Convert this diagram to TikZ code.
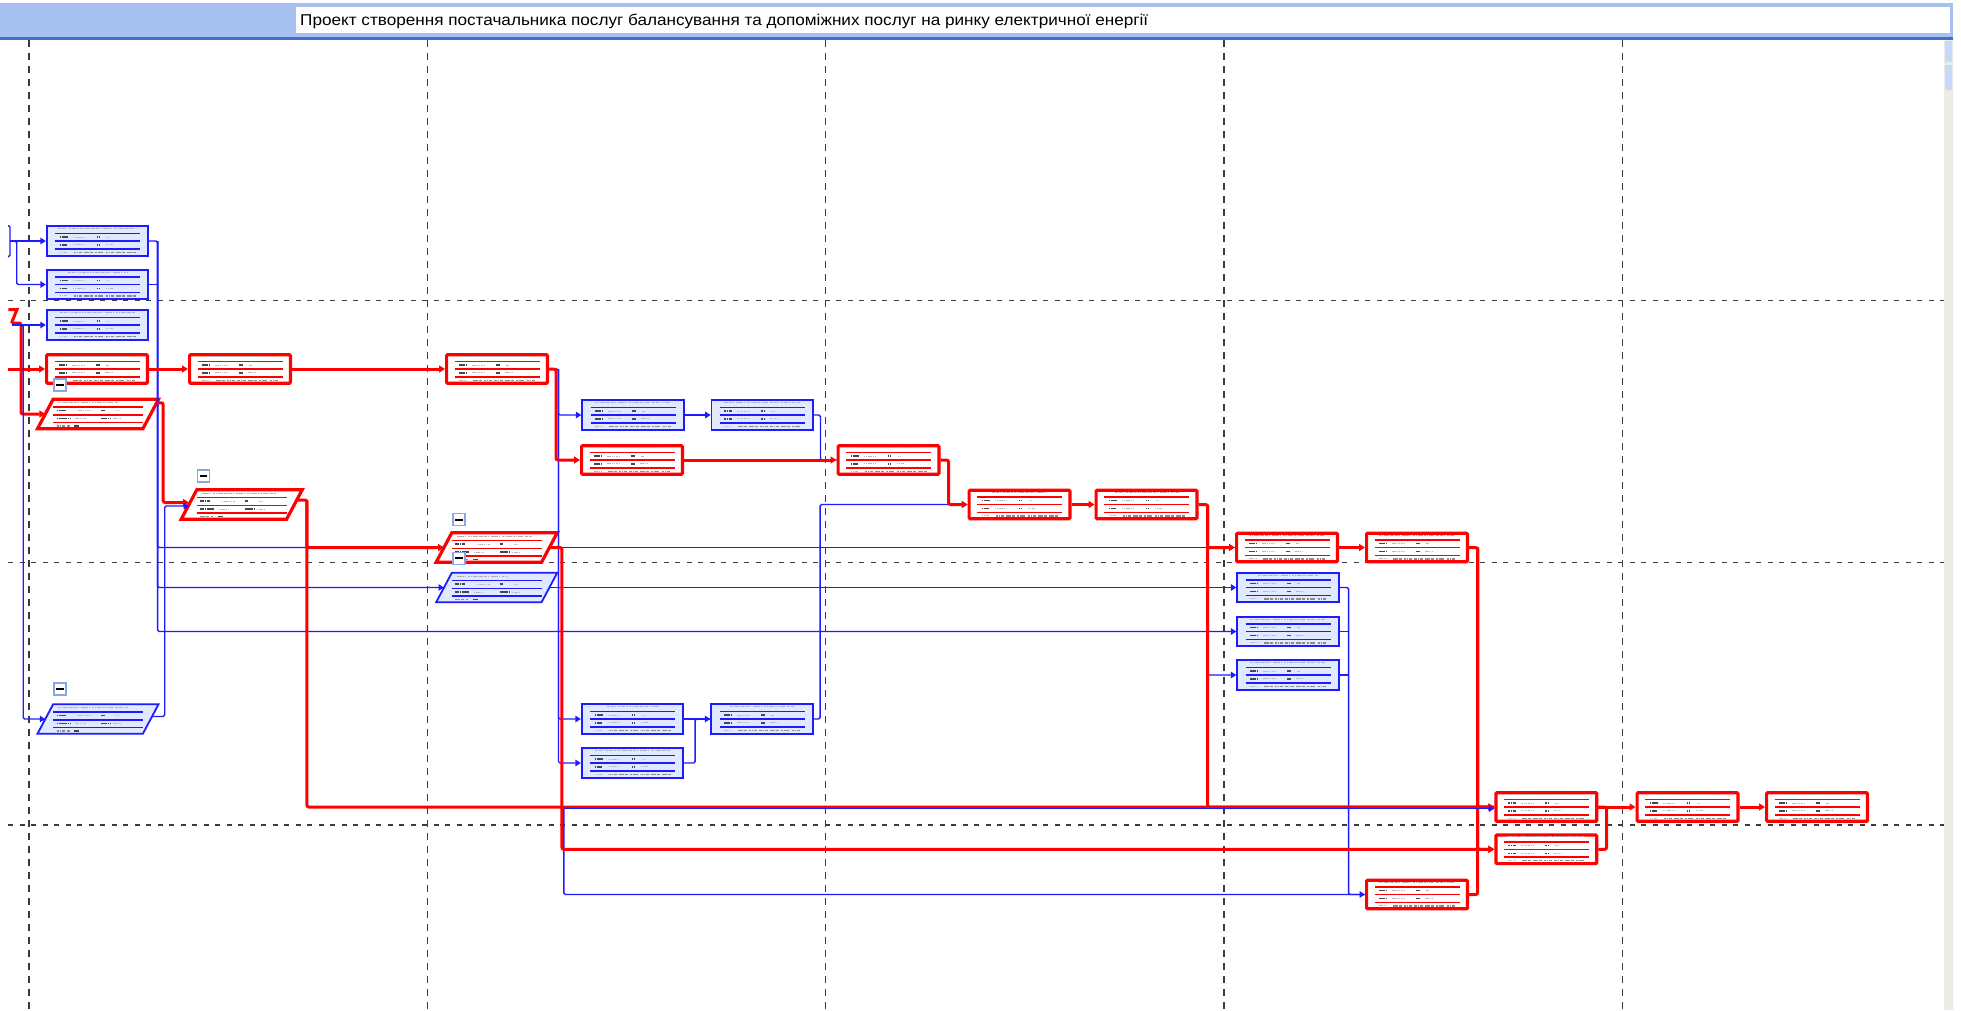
\documentclass[tikz,border=0pt]{standalone}
\usepackage{fontspec}
\usepackage{graphicx}
\setmainfont{Liberation Sans}
\usetikzlibrary{calc,arrows.meta}

\definecolor{critred}{RGB}{255,0,0}
\definecolor{normblue}{RGB}{28,28,255}
\definecolor{bluefill}{RGB}{224,233,255}
\definecolor{gridgray}{RGB}{60,60,60}
\definecolor{barblue}{RGB}{166,192,240}
\definecolor{bardark}{RGB}{70,110,200}
\definecolor{btnblue}{RGB}{140,166,228}
\definecolor{sbgray}{RGB}{236,236,230}
\definecolor{sbblue}{RGB}{200,216,248}

% tiny illegible field text inside the task boxes, drawn as marks
\newcommand\taskdetail[3]{%
  \begin{scope}[shift={(#1.center)}]
    \draw[titletext] (-#3,-12.4) -- (#3,-12.4);
    \draw[#2, line width=1.5pt] (-42.5,-7.5) -- (42.5,-7.5) (-42.5,0.2) -- (42.5,0.2) (-42.5,7.8) -- (42.5,7.8);
    \draw[darktext] (-38,-3.9) -- (-30,-3.9) (-1,-3.9) -- (2.5,-3.9);
    \draw[lighttext] (-25,-3.9) -- (-13,-3.9) (9,-3.9) -- (12,-3.9);
    \draw[darktext] (-38,3.9) -- (-31,3.9) (-1,3.9) -- (2.5,3.9);
    \draw[lighttext] (-25,3.9) -- (-13,3.9) (8,3.9) -- (15,3.9);
    \draw[lighttext] (-38,11.4) -- (-31,11.4);
    \draw[midtext] (-24,11.4) -- (39,11.4);
  \end{scope}}

\newcommand\paradetail[3]{%
  \begin{scope}[shift={(#1.center)}]
    \draw[titletext] (-40,-11.3) -- (#3,-11.3);
    \draw[#2, line width=1.5pt] (-45,-7.2) -- (45,-7.2) (-45,0.8) -- (45,0.8) (-45,8.4) -- (45,8.4);
    \draw[darktext] (-41.5,-3.4) -- (-32,-3.4) (3,-3.4) -- (6.5,-3.4);
    \draw[lighttext] (-20,-3.4) -- (-7,-3.4) (17.5,-3.4) -- (20,-3.4);
    \draw[darktext] (-41.5,4.6) -- (-28,4.6) (3,4.6) -- (12,4.6);
    \draw[lighttext] (-23,4.6) -- (-12,4.6) (15,4.6) -- (22,4.6);
    \draw[midtext] (-41.5,12) -- (-28,12);
    \draw[darktext] (-24,12) -- (-19,12);
  \end{scope}}

\newcommand\paratask[4]{%
  \node[paranode] (#1) at (#2,#3) {};
  \draw[#4] ($(#1.north west)+(7.8,0)$) -- ($(#1.north east)+(7.8,0)$)
    -- ($(#1.south east)+(-7.8,0)$) -- ($(#1.south west)+(-7.8,0)$) -- cycle;}

\begin{document}
\begin{tikzpicture}[x=1pt,y=-1pt,
  critbox/.style={rectangle, inner sep=0, minimum width=100.8pt, minimum height=28.6pt,
    draw=critred, line width=3.2pt, fill=white, rounded corners=1pt},
  normbox/.style={rectangle, inner sep=0, minimum width=101.5pt, minimum height=29.7pt,
    draw=normblue, line width=1.8pt, fill=bluefill},
  paranode/.style={rectangle, inner sep=0, minimum width=105pt, minimum height=29pt},
  critpara/.style={draw=critred, line width=3.2pt, fill=white},
  normpara/.style={draw=normblue, line width=1.8pt, fill=bluefill},
  critline/.style={draw=critred, line width=3pt, rounded corners=2pt},
  normline/.style={draw=normblue, line width=1.4pt, rounded corners=1.5pt},
  critarrow/.style={critline, -{Triangle[length=6pt,width=7pt]}},
  normarrow/.style={normline, -{Triangle[length=5.5pt,width=6.5pt]}},
  titletext/.style={gray!60, line width=1.1pt, dash pattern=on 2.2pt off 0.5pt on 1.2pt off 0.7pt on 3pt off 0.6pt on 1.5pt off 1.6pt},
  darktext/.style={black!72, line width=1.4pt, dash pattern=on 1.8pt off 0.4pt},
  lighttext/.style={gray!55, line width=1.1pt, dash pattern=on 1.5pt off 0.8pt},
  midtext/.style={black!45, line width=1.2pt, dash pattern=on 2.5pt off 0.6pt on 1.6pt off 0.8pt on 3pt off 2.2pt},
  gridv/.style={gridgray, line width=1.5pt, dash pattern=on 6.5pt off 6.5pt},
  gridh/.style={gridgray, line width=1.5pt, dash pattern=on 5pt off 6.5pt},
  btn/.style={rectangle, draw=btnblue, line width=1.2pt, fill=white, minimum size=12pt, inner sep=0}
]
\useasboundingbox (0,0) rectangle (1961,1010);
\fill[white] (0,0) rectangle (1961,1010);

% header with the project name
\fill[barblue] (0,3) rectangle (1953,39);
\fill[white] (296,7) rectangle (1950,32.5);
\fill[bardark] (0,36.5) rectangle (1953,39.5);
\node[anchor=base west, inner sep=0] (title) at (300,25)
  {\resizebox{848pt}{11.5pt}{\fontsize{14}{16}\selectfont Проект створення постачальника послуг балансування та допоміжних послуг на ринку електричної енергії}};

% scroll bar on the right
\fill[sbgray] (1944,39.5) rectangle (1953,1010);
\fill[sbblue] (1945,41) rectangle (1952,62);
\fill[sbblue] (1945,65) rectangle (1952,90);

% page grid
\foreach \gx in {29,427.7,825.5,1224,1622.7} \draw[gridv] (\gx,40) -- (\gx,1010);
\foreach \gy in {300.7,562.7,825} \draw[gridh] (8,\gy) -- (1944,\gy);

% task boxes
\node[normbox] (B1) at (97.5,241) {};
\node[normbox] (B2) at (97.5,284.5) {};
\node[normbox] (B3) at (97.5,325) {};
\node[critbox] (R1) at (97,369) {};
\node[critbox] (R2) at (240,369) {};
\node[critbox] (R3) at (497,369) {};
\node[normbox] (B4) at (633,415) {};
\node[critbox] (R4) at (632,460) {};
\node[normbox] (B5) at (762.3,415) {};
\node[normbox] (B6) at (632.5,719) {};
\node[normbox] (B7) at (632.5,763) {};
\node[normbox] (B8) at (762,719) {};
\node[critbox] (R5) at (888.5,460) {};
\node[critbox] (R6) at (1019.5,504.5) {};
\node[critbox] (R7) at (1146.5,504.5) {};
\node[critbox] (R8) at (1287,547.5) {};
\node[critbox] (R9) at (1417,547.5) {};
\node[normbox] (B9) at (1288,587.5) {};
\node[normbox] (B10) at (1288,631.5) {};
\node[normbox] (B11) at (1288,675) {};
\node[critbox] (R10) at (1417,894.5) {};
\node[critbox] (R11) at (1546.3,807) {};
\node[critbox] (R12) at (1546.3,849.3) {};
\node[critbox] (R13) at (1687.5,807) {};
\node[critbox] (R14) at (1817,807) {};

% summary tasks
\paratask{P1}{98}{414}{critpara}
\paratask{P2}{241.7}{504.5}{critpara}
\paratask{P3}{496.7}{547.5}{critpara}
\paratask{P4}{496.7}{587.5}{normpara}
\paratask{P5}{98}{719}{normpara}

% box contents
\taskdetail{B1}{normblue}{40}
\taskdetail{B2}{normblue}{30}
\taskdetail{B3}{normblue}{38}
\taskdetail{R1}{critred}{38}
\taskdetail{R2}{critred}{36}
\taskdetail{R3}{critred}{38}
\taskdetail{B4}{normblue}{38}
\taskdetail{R4}{critred}{25}
\taskdetail{B5}{normblue}{38}
\taskdetail{B6}{normblue}{26}
\taskdetail{B7}{normblue}{38}
\taskdetail{B8}{normblue}{32}
\taskdetail{R5}{critred}{30}
\taskdetail{R6}{critred}{28}
\taskdetail{R7}{critred}{32}
\taskdetail{R8}{critred}{38}
\taskdetail{R9}{critred}{38}
\taskdetail{B9}{normblue}{30}
\taskdetail{B10}{normblue}{38}
\taskdetail{B11}{normblue}{38}
\taskdetail{R10}{critred}{38}
\taskdetail{R11}{critred}{38}
\taskdetail{R12}{critred}{38}
\taskdetail{R13}{critred}{32}
\taskdetail{R14}{critred}{32}
\paradetail{P1}{critred}{20}
\paradetail{P2}{critred}{34}
\paradetail{P3}{critred}{36}
\paradetail{P4}{normblue}{10}
\paradetail{P5}{normblue}{30}

% free ends of links coming from outside the view
\coordinate (inR1) at (8,369);
\coordinate (inA) at (8,225.7);
\coordinate (inB) at (8,256.7);
\coordinate (inC) at (8.3,309.5);
\coordinate (inD) at (12,325);
\coordinate (bjoin) at (563.9,808.6);

% non-critical links
\draw[normarrow] (B1.east) -- ++(8.5,0) |- (B10.west);
\draw[normline] (B2.east) -- ++(8.5,0);
\draw[normline] ($(B1.east)+(8.5,0)$) |- (P3.west);
\draw[normarrow] ($(B1.east)+(8.5,0)$) |- (P4.west);
\draw[normarrow] (R3.east) -- ++(9.5,0) |- (B4.west);
\draw[normarrow] ($(R3.east)+(9.5,0)$) |- (B6.west);
\draw[normarrow] ($(R3.east)+(9.5,0)$) |- (B7.west);
\draw[normarrow] (B4.east) -- (B5.west);
\draw[normline] (B5.east) -- ++(6.5,0) |- (R5.west);
\draw[normarrow] (B6.east) -- (B8.west);
\draw[normline] (B7.east) -- ++(11,0) |- (B8.west);
\draw[normarrow] (B8.east) -- ++(6.5,0) |- (R6.west);
\draw[normline] (P3.east) -- (P3.east -| R8.west);
\draw[normarrow] (P4.east) -- (P4.east -| B9.west);
\draw[normarrow] ($(R7.east)+(9,0)$) |- (B11.west);
\draw[normarrow] (B9.east) -- ++(9,0) |- (R10.west);
\draw[normline] (B10.east) -- ++(9,0);
\draw[normline] (B11.east) -- ++(9,0);
\draw[normline] (bjoin) |- (R10.west);

% critical links
\draw[critarrow] (inR1) -- (R1.west);
\draw[critarrow] (R1.east) -- (R2.west);
\draw[critarrow] (R2.east) -- (R3.west);
\draw[critarrow] (R3.east) -- ++(7,0) |- (R4.west);
\draw[critarrow] (R4.east) -- (R5.west);
\draw[critarrow] (R5.east) -- ++(8,0) |- (R6.west);
\draw[critarrow] (R6.east) -- (R7.west);
\draw[critarrow] (R7.east) -- ++(9,0) |- (R8.west);
\draw[critline] ($(R7.east)+(9,0)$) |- (R11.west);
\draw[critarrow] (R8.east) -- (R9.west);
\draw[critline] (R9.east) -- ++(8.6,0) |- (R10.east);
\draw[critarrow] ($(R9.east)+(8.6,0)$) |- (R11.west);
\draw[critarrow] ($(R9.east)+(8.6,0)$) |- (R12.west);
\draw[critline] (R12.east) -- ++(8.3,0) |- (R11.east);
\draw[critarrow] (R11.east) -- (R13.west);
\draw[critarrow] (R13.east) -- (R14.west);
\draw[critline, rounded corners=0] (inC) -- (17,309.5) -- (11.5,323);
\draw[critarrow] (11.5,323) -- (21,323) |- (P1.west);
\draw[critarrow] ($(P1.north east)+(6.5,3.5)$) -- ++(6,0) |- ($(P2.west)+(0,-2)$);
\draw[critarrow] ($(P2.east)+(1.5,-4.5)$) -- ++(11,0) |- (P3.west);
\draw[critarrow] ($(P2.east)+(12.5,-4.5)$) |- (R11.west);
\draw[critarrow] (P3.east) -- ++(12.5,0) |- (R12.west);

% non-critical links drawn over the critical ones
\draw[normline] (inA) -- (10,225.7) -- (10,256.7) -- (inB);
\draw[normarrow] (10,241) -- (B1.west);
\draw[normarrow] (10,241) -- (16.7,241) |- (B2.west);
\draw[normarrow] (inD) -- (B3.west);
\draw[normarrow] (inD) -- (23.2,325) |- (P5.west);
\draw[normarrow] ($(P5.east)+(1,-2.5)$) -- ++(13,0) |- ($(P2.west)+(0,1.5)$);
\draw[normarrow] (bjoin) -- (bjoin -| R11.west);

% collapse buttons of the summary tasks
\foreach \bn/\bx/\by in {K1/60/385, K2/203.3/476, K3/459/519.7, K4/459/558.3, K5/60/689} {
  \node[btn] (\bn) at (\bx,\by) {};
  \draw[black, line width=1.7pt] ($(\bn.center)+(-3.6,0)$) -- ($(\bn.center)+(3.6,0)$);
}
\end{tikzpicture}
\end{document}
